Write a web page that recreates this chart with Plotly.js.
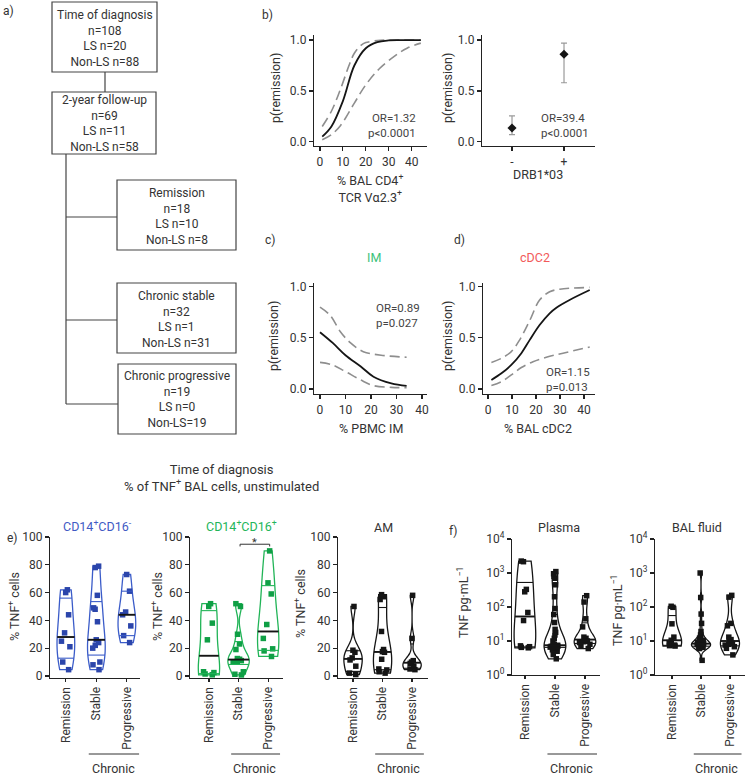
<!DOCTYPE html>
<html><head><meta charset="utf-8">
<script src="https://cdn.plot.ly/plotly-3.0.1.min.js"></script>
<style>html,body{margin:0;padding:0;background:#fff}#chart{width:746px;height:776px}</style>
</head><body><div id="chart"></div>
<script>
// ---------------- DATA ----------------
// a) flowchart
const flowTitles = ['Time of diagnosis', '2-year follow-up', 'Remission', 'Chronic stable', 'Chronic progressive'];
const flowN      = [108, 69, 18, 32, 19];
const flowLS     = [20, 11, 10, 1, 0];
const flowNonLS  = [88, 58, 8, 31, 19];

// b) left: % BAL CD4+ TCR Va2.3+
const cd4FitX = [1, 5, 10, 15, 20, 25, 30, 35, 44];
const cd4FitY = [0.05, 0.15, 0.40, 0.75, 0.92, 0.98, 0.997, 1.0, 1.0];
const cd4UpX  = [1, 5, 9, 13, 15, 18, 20, 25, 30, 44];
const cd4UpY  = [0.15, 0.30, 0.52, 0.77, 0.87, 0.95, 0.975, 0.995, 1.0, 1.0];
const cd4LoX  = [1, 5, 9, 15, 20, 26, 33, 38, 44];
const cd4LoY  = [0.02, 0.07, 0.16, 0.38, 0.56, 0.72, 0.85, 0.92, 0.97];
const cd4Stats = 'OR=1.32<br>p&lt;0.0001';

// b) right: DRB1*03
const drbCats = ['-', '+'];
const drbP    = [0.135, 0.86];
const drbLow  = [0.07, 0.58];
const drbHigh = [0.255, 0.97];
const drbStats = 'OR=39.4<br>p&lt;0.0001';

// c) % PBMC IM
const imFitX = [0, 5, 10, 16, 21, 28, 34];
const imFitY = [0.555, 0.45, 0.33, 0.22, 0.12, 0.055, 0.03];
const imUpX  = [0, 4, 8, 12, 17, 24, 34];
const imUpY  = [0.80, 0.72, 0.56, 0.45, 0.365, 0.33, 0.31];
const imLoX  = [0, 5, 10, 16, 21, 28, 34];
const imLoY  = [0.26, 0.235, 0.17, 0.088, 0.033, 0.016, 0.013];
const imStats = 'OR=0.89<br>p=0.027';

// d) % BAL cDC2
const dcFitX = [1.4, 5.6, 9.7, 13.9, 17.4, 21.5, 25.7, 28.5, 34, 42.4];
const dcFitY = [0.088, 0.153, 0.235, 0.35, 0.48, 0.625, 0.74, 0.795, 0.87, 0.967];
const dcUpX  = [1.4, 5.6, 9.7, 13.2, 17.4, 21.5, 25.7, 29.9, 42.4];
const dcUpY  = [0.26, 0.30, 0.365, 0.48, 0.67, 0.87, 0.95, 0.975, 0.993];
const dcLoX  = [1.4, 5.6, 9.7, 13.9, 18.75, 24.3, 31.25, 42.4];
const dcLoY  = [0.033, 0.072, 0.137, 0.21, 0.267, 0.31, 0.35, 0.41];
const dcStats = 'OR=1.15<br>p=0.013';

// e) % TNF+ BAL cells, unstimulated
const groups = ['Remission', 'Stable', 'Progressive'];
const mono16negRem = [62, 60, 44, 31, 25, 21, 10, 4.5];
const mono16negSta = [79, 78, 58, 49, 48, 39, 26, 24, 22, 20, 10, 8, 4.5];
const mono16negPro = [73, 61, 46, 44, 36, 29, 24];
const mono16posRem = [52, 50, 38, 26, 3, 2.4, 1.4, 0.8];
const mono16posSta = [52, 50, 30, 23, 19, 12.5, 12, 11.5, 11, 10.5, 10, 3, 1.2, 0.7];
const mono16posPro = [90, 67, 59, 37, 27, 19.5, 18, 14];
const amRem = [50, 18.5, 17, 13, 11.5, 7, 2, 1];
const amSta = [58.5, 57, 55, 32, 19, 17.5, 17, 12, 5, 4.3, 3, 2];
const amPro = [58, 27, 11, 10, 9, 7, 5, 4.5];

// f) TNF pg/mL
const plasmaRem = [2240, 2150, 330, 280, 69, 40, 7.2, 6.8, 6.5, 6.3];
const plasmaSta = [1100, 950, 800, 700, 450, 200, 90, 60, 35, 22, 18, 15, 12, 10, 8, 7.5, 7.2, 7, 7, 6.8, 6.7, 6.6, 6.5, 6.5, 6.3, 6, 6, 5.5, 5, 4, 3];
const plasmaPro = [215, 140, 45, 26, 13, 12, 11, 10, 9.5, 9, 8, 7, 6];
const balfRem = [105, 98, 32, 13, 10.5, 9, 7.6, 7.3, 7.1];
const balfSta = [1000, 190, 62, 33, 19, 15, 12, 11, 10.5, 9.5, 9, 8.5, 8.2, 8, 7.8, 7.5, 7.3, 7.1, 7, 6.8, 6.6, 6.5, 6, 2.7];
const balfPro = [220, 195, 33, 28, 13, 11, 10, 8.5, 8, 7.6, 6.8, 6.1, 3.9];
const logTickVals = [0, 1, 2, 3, 4];
const logTickText = ['10<sup>0</sup>', '10<sup>1</sup>', '10<sup>2</sup>', '10<sup>3</sup>', '10<sup>4</sup>'];

// ---------------- LAYOUT HELPERS ----------------
const W = 746, H = 776;
const PX = x => x / W;
const PY = y => 1 - y / H;
const xd = (a, b) => [a / W, b / W];
const yd = (top, bot) => [1 - bot / H, 1 - top / H];
const FONT = 'Roboto, "Open Sans", Arial, sans-serif';
const TXT = '#333';
const BLUE = '#3b5cc9', BLUE_M = '#2b45ab';
const GREEN = '#21b457', GREEN_M = '#0f9f45';
const BLACK = '#151515';
const GREY = '#8e8e8e';

const traces = [];
const shapes = [];
const annotations = [];

function ann(text, x, y, opts) {
  annotations.push(Object.assign({text, x: PX(x), y: PY(y), xref: 'paper', yref: 'paper',
    showarrow: false, xanchor: 'center', yanchor: 'middle',
    font: {family: FONT, size: 12, color: TXT}}, opts || {}));
}

// ---------------- a) FLOWCHART ----------------
const boxes = [
  [52, 157, 2, 72], [52, 156, 92, 154], [117, 236, 180, 250], [117, 236, 283, 353], [118, 236, 364, 434]
];
boxes.forEach((b, i) => {
  shapes.push({type: 'rect', xref: 'paper', yref: 'paper', x0: PX(b[0]), x1: PX(b[1]), y0: PY(b[2]), y1: PY(b[3]),
    line: {color: '#444', width: 1.2}, fillcolor: 'rgba(0,0,0,0)'});
  const nonLs = i === 4 ? 'Non-LS=' + flowNonLS[i] : 'Non-LS n=' + flowNonLS[i];
  ann(flowTitles[i] + '<br>n=' + flowN[i] + '<br>LS n=' + flowLS[i] + '<br>' + nonLs,
    (b[0] + b[1]) / 2, (b[2] + b[3]) / 2 + 1, {font: {family: FONT, size: 12, color: TXT}});
});
function pline(x0, y0, x1, y1) {
  shapes.push({type: 'line', xref: 'paper', yref: 'paper', x0: PX(x0), x1: PX(x1), y0: PY(y0), y1: PY(y1),
    line: {color: '#444', width: 1.2}});
}
pline(105, 72, 105, 92);
pline(66, 154, 66, 404);
pline(66, 217, 117, 217);
pline(66, 320, 117, 320);
pline(66, 404, 118, 404);

// ---------------- AXES ----------------
const axBase = {showline: true, linecolor: '#222', linewidth: 1.2, ticks: 'outside', ticklen: 4, tickwidth: 1.2,
  tickcolor: '#222', showgrid: false, zeroline: false, fixedrange: true, type: 'linear',
  tickfont: {family: FONT, size: 12, color: TXT}};
const layout = {width: W, height: H, margin: {l: 0, r: 0, t: 0, b: 0}, paper_bgcolor: '#fff', plot_bgcolor: 'rgba(0,0,0,0)',
  showlegend: false, font: {family: FONT, color: TXT}, violinmode: 'overlay'};

function setAxes(n, xdom, ydom, xopt, yopt) {
  const xs = n === 1 ? 'xaxis' : 'xaxis' + n;
  const ys = n === 1 ? 'yaxis' : 'yaxis' + n;
  layout[xs] = Object.assign({}, axBase, {domain: xdom, anchor: 'y' + (n === 1 ? '' : n)}, xopt);
  layout[ys] = Object.assign({}, axBase, {domain: ydom, anchor: 'x' + (n === 1 ? '' : n)}, yopt);
}
const probY = {tickvals: [0, 0.5, 1], tickformat: '.1f'};

// b1
setAxes(1, xd(314, 427), yd(35, 146), {range: [-2.6, 46.7], tickvals: [0, 10, 20, 30, 40]}, Object.assign({range: [-0.042, 1.05]}, probY));
// b2
setAxes(2, xd(482, 595), yd(35, 146), {range: [-0.577, 1.596], tickvals: [0, 1], ticktext: drbCats}, Object.assign({range: [-0.042, 1.05]}, probY));
// c
setAxes(3, xd(314, 427), yd(283, 394), {range: [-2.35, 42.0], tickvals: [0, 10, 20, 30, 40]}, Object.assign({range: [-0.049, 1.036]}, probY));
// d
setAxes(4, xd(483, 595), yd(283, 394), {range: [-2.1, 44.6], tickvals: [0, 10, 20, 30, 40]}, Object.assign({range: [-0.049, 1.036]}, probY));

function curveSet(xa, ya, fx, fy, ux, uy, lx, ly) {
  const a = {xaxis: xa, yaxis: ya, mode: 'lines', type: 'scatter', hoverinfo: 'skip'};
  traces.push(Object.assign({x: ux, y: uy, line: {color: GREY, width: 1.6, dash: '10px,5px', shape: 'spline'}}, a));
  traces.push(Object.assign({x: lx, y: ly, line: {color: GREY, width: 1.6, dash: '10px,5px', shape: 'spline'}}, a));
  traces.push(Object.assign({x: fx, y: fy, line: {color: BLACK, width: 1.8, shape: 'spline'}}, a));
}
curveSet('x', 'y', cd4FitX, cd4FitY, cd4UpX, cd4UpY, cd4LoX, cd4LoY);
curveSet('x3', 'y3', imFitX, imFitY, imUpX, imUpY, imLoX, imLoY);
curveSet('x4', 'y4', dcFitX, dcFitY, dcUpX, dcUpY, dcLoX, dcLoY);

// b2 points
traces.push({type: 'scatter', mode: 'markers', xaxis: 'x2', yaxis: 'y2', x: drbCats.map((c, i) => i), y: drbP,
  marker: {symbol: 'diamond', size: 7, color: BLACK},
  error_y: {type: 'data', symmetric: false, array: drbHigh.map((h, i) => h - drbP[i]),
    arrayminus: drbLow.map((l, i) => drbP[i] - l), color: '#9a9a9a', thickness: 1.2, width: 3},
  hoverinfo: 'skip'});

// b, c, d text
ann('a)', 8, 11);
ann('b)', 267, 15);
ann('c)', 270, 240);
ann('d)', 459, 240);
const yTitle = {textangle: -90, font: {family: FONT, size: 12.5, color: TXT}};
ann('p(remission)', 275, 88, yTitle);
ann('p(remission)', 447, 88, yTitle);
ann('p(remission)', 273, 336, yTitle);
ann('p(remission)', 447, 336, yTitle);
const xTitleFont = {font: {family: FONT, size: 12.5, color: TXT}};
ann('% BAL CD4<sup>+</sup><br>TCR V\u03b12.3<sup>+</sup>', 370, 188, xTitleFont);
ann('DRB1*03', 538, 175, xTitleFont);
ann('% PBMC IM', 371, 428, xTitleFont);
ann('% BAL cDC2', 538, 428, xTitleFont);
ann('IM', 374, 258, {font: {family: FONT, size: 12.5, color: '#3cc27a'}});
ann('cDC2', 535, 258, {font: {family: FONT, size: 12.5, color: '#f25a5a'}});
const statFont = {family: FONT, size: 11.5, color: '#444'};
ann(cd4Stats, 418, 126, {xanchor: 'right', align: 'right', font: statFont});
ann(drbStats, 539, 126, {xanchor: 'left', align: 'left', font: statFont});
ann(imStats, 374, 315, {xanchor: 'left', align: 'left', font: statFont});
ann(dcStats, 544, 379, {xanchor: 'left', align: 'left', font: statFont});

// ---------------- e) & f) VIOLINS ----------------
function quantile(s, p) {
  const n = s.length;
  let pos = (n + 1) * p - 1;
  pos = Math.max(0, Math.min(n - 1, pos));
  const lo = Math.floor(pos), hi = Math.ceil(pos);
  return s[lo] + (s[hi] - s[lo]) * (pos - lo);
}
function violinGeom(vals) {
  const s = [...vals].sort((a, b) => a - b), n = s.length;
  const mean = s.reduce((a, b) => a + b, 0) / n;
  const sd = Math.sqrt(s.reduce((a, b) => a + (b - mean) * (b - mean), 0) / (n - 1));
  const q1 = quantile(s, 0.25), med = quantile(s, 0.5), q3 = quantile(s, 0.75);
  const span = s[n - 1] - s[0];
  const f = q => { const lo = Math.floor(q), hi = Math.ceil(q); return s[lo] + (s[hi] - s[lo]) * (q - lo); };
  const iqrL = f((n - 1) * 0.75) - f((n - 1) * 0.25);
  const bw = Math.max(1.059 * Math.min(sd, iqrL / 1.349) * Math.pow(n, -0.2), span / 100);
  const kde = x => { let t = 0; for (const v of s) { const u = (x - v) / bw; t += Math.exp(-0.5 * u * u); } return t / (n * bw * Math.sqrt(2 * Math.PI)); };
  const steps = Math.ceil(span / (bw / 3)), step = span / steps;
  let mx = 0;
  for (let k = 0; k <= steps; k++) mx = Math.max(mx, kde(s[0] + k * step));
  return {q1, med, q3, bw, frac: v => kde(v) / mx};
}

const eY = {range: [-1.5, 100], tickvals: [0, 20, 40, 60, 80, 100]};
const fY = {range: [0, 4], tickvals: logTickVals, ticktext: logTickText};
const catX = r => ({range: r, tickvals: [0, 1, 2], ticktext: groups, tickangle: -90, ticklen: 3});
setAxes(5, xd(50, 140), yd(537, 678), catX([-0.52, 2.43]), eY);
setAxes(6, xd(190, 283), yd(537, 678), catX([-0.64, 2.5]), eY);
setAxes(7, xd(338, 428), yd(537, 678), catX([-0.51, 2.54]), eY);
setAxes(8, xd(512, 600), yd(539, 675), catX([-0.43, 2.5]), fY);
setAxes(9, xd(655, 745), yd(539, 675), catX([-0.59, 2.52]), fY);

const panels = [
  {ax: 5, sets: [mono16negRem, mono16negSta, mono16negPro], line: BLUE, mk: BLUE_M, q: BLUE, w: 0.58, log: false},
  {ax: 6, sets: [mono16posRem, mono16posSta, mono16posPro], line: GREEN, mk: GREEN_M, q: GREEN, w: 0.72, log: false},
  {ax: 7, sets: [amRem, amSta, amPro], line: BLACK, mk: BLACK, q: BLACK, w: 0.62, log: false},
  {ax: 8, sets: [plasmaRem, plasmaSta, plasmaPro], line: BLACK, mk: BLACK, q: BLACK, w: 0.72, log: true},
  {ax: 9, sets: [balfRem, balfSta, balfPro], line: BLACK, mk: BLACK, q: BLACK, w: 0.66, log: true}
];
panels.forEach(p => {
  p.sets.forEach((raw, i) => {
    const vals = p.log ? raw.map(v => Math.log10(v)) : raw.slice();
    const g = violinGeom(vals);
    traces.push({type: 'violin', x0: i, y: vals, xaxis: 'x' + p.ax, yaxis: 'y' + p.ax, name: groups[i] + p.ax,
      width: p.w, bandwidth: g.bw, spanmode: 'hard', scalemode: 'width', scalegroup: 'g' + p.ax + '_' + i,
      points: 'all', pointpos: 0, jitter: 0.6, line: {color: p.line, width: 1.3}, fillcolor: 'rgba(0,0,0,0)',
      marker: {symbol: 'square', size: 5.5, color: p.mk}, box: {visible: false}, meanline: {visible: false},
      hoverinfo: 'skip'});
    const half = p.w / 2;
    const seg = (v, color, width) => {
      const hw = half * g.frac(v);
      traces.push({type: 'scatter', mode: 'lines', xaxis: 'x' + p.ax, yaxis: 'y' + p.ax,
        x: [i - hw, i + hw], y: [v, v], line: {color, width}, hoverinfo: 'skip'});
    };
    seg(g.q1, p.q, 1.1);
    seg(g.q3, p.q, 1.1);
    seg(g.med, BLACK, 1.9);
  });
  // "Chronic" bracket under Stable / Progressive
  shapes.push({type: 'line', xref: 'x' + p.ax, yref: 'paper', x0: 0.75, x1: 2.4, y0: PY(754), y1: PY(754),
    line: {color: '#333', width: 1}});
  annotations.push({text: 'Chronic', xref: 'x' + p.ax, yref: 'paper', x: 1.55, y: PY(768), showarrow: false,
    xanchor: 'center', yanchor: 'middle', font: {family: FONT, size: 12.5, color: TXT}});
});

// significance bracket on CD14+CD16+
shapes.push({type: 'path', xref: 'x6', yref: 'y6', path: 'M 1.05,93.2 L 1.05,94.8 L 2.05,94.8 L 2.05,93.2',
  line: {color: '#333', width: 1}});
annotations.push({text: '*', xref: 'x6', yref: 'y6', x: 1.55, y: 95.8, showarrow: false, xanchor: 'center', yanchor: 'middle',
  font: {family: FONT, size: 11, color: TXT}});

// panel titles & labels
ann('Time of diagnosis<br>% of TNF<sup>+</sup> BAL cells, unstimulated', 222, 478, {font: {family: FONT, size: 13, color: TXT}});
ann('e)', 12, 538);
ann('f)', 453, 531);
ann('CD14<sup>+</sup>CD16<sup>-</sup>', 97, 526, {font: {family: FONT, size: 12.5, color: '#3f5ac4'}});
ann('CD14<sup>+</sup>CD16<sup>+</sup>', 241, 526, {font: {family: FONT, size: 12.5, color: '#22b55a'}});
ann('AM', 383, 527, {font: {family: FONT, size: 12.5, color: TXT}});
ann('Plasma', 559, 527, {font: {family: FONT, size: 12.5, color: TXT}});
ann('BAL fluid', 697, 527, {font: {family: FONT, size: 12.5, color: TXT}});
ann('% TNF<sup>+</sup> cells', 14, 607, yTitle);
ann('% TNF<sup>+</sup> cells', 157, 607, yTitle);
ann('% TNF<sup>+</sup> cells', 300, 604, yTitle);
ann('TNF pg\u00b7mL<sup>\u22121</sup>', 463, 603, yTitle);
ann('TNF pg\u00b7mL<sup>\u22121</sup>', 617, 611, yTitle);

layout.shapes = shapes;
layout.annotations = annotations;
Plotly.newPlot('chart', traces, layout, {staticPlot: true, displayModeBar: false});
</script></body></html>
